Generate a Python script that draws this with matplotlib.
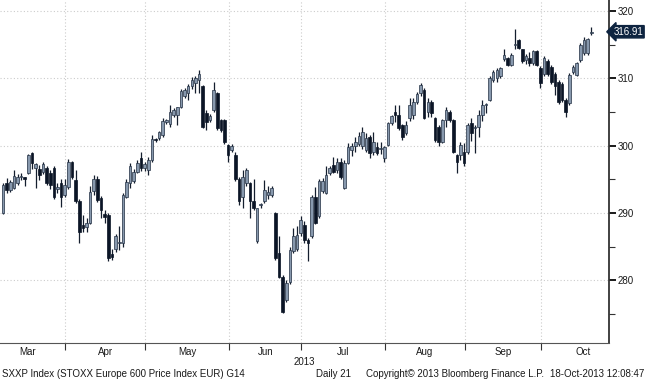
import matplotlib
matplotlib.use("Agg")
import matplotlib.pyplot as plt
import matplotlib.transforms as mtransforms
import numpy as np
import pandas as pd

# SXXP daily candles, 6-Mar-2013 .. 18-Oct-2013
opens = [290.0, 294.4, 293.4, 293.7, 294.4, 295.3, 295.3, 296.0, 298.9, 296.6,
         296.5, 296.1, 296.6, 295.9, 296.6, 293.6, 294.4, 292.7, 293.9, 297.5,
         294.9, 291.7, 288.2, 287.9, 288.5, 293.3, 295.1, 292.2, 289.9, 289.7,
         283.9, 284.7, 285.6, 285.5, 292.4, 294.4, 294.8, 296.1, 298.2, 296.6,
         296.4, 297.8, 300.9, 301.1, 301.5, 303.5, 303.2, 304.6, 304.6, 305.8,
         307.3, 307.8, 308.8, 309.3, 309.7, 308.8, 304.8, 303.8, 305.3, 307.8,
         303.8, 303.8, 300.1, 299.4, 298.6, 295.1, 292.4, 294.4, 294.4, 291.7,
         285.8, 291.1, 291.7, 292.6, 292.6, 290.0, 284.1, 280.5, 277.1, 279.8,
         284.3, 284.7, 287.0, 288.2, 286.0, 286.5, 292.4, 289.5, 293.2, 293.0,
         295.9, 297.1, 296.4, 297.6, 293.7, 297.4, 299.4, 299.9, 300.2, 300.0,
         299.4, 301.3, 299.0, 299.8, 299.5, 298.1, 300.1, 303.3, 305.0, 304.5,
         303.1, 301.9, 304.1, 304.6, 306.5, 307.8, 308.3, 305.0, 306.5, 304.1,
         302.8, 300.6, 303.8, 305.0, 303.8, 298.6, 298.6, 299.1, 299.1, 303.3,
         302.6, 302.8, 304.5, 306.0, 306.8, 309.7, 310.0, 310.4, 312.8, 313.0,
         312.0, 315.0, 315.7, 314.3, 312.7, 313.0, 312.2, 314.0, 311.5, 310.7,
         312.5, 311.7, 310.7, 309.5, 309.2, 306.8, 306.3, 311.0, 310.5, 312.7,
         313.7, 313.7, 316.8]
highs = [294.4, 295.2, 294.9, 296.4, 295.8, 296.0, 295.4, 298.8, 299.1, 297.4,
         297.1, 297.6, 296.9, 296.3, 297.0, 294.4, 295.1, 295.1, 298.0, 297.7,
         296.3, 292.0, 289.7, 289.2, 294.0, 295.6, 295.5, 292.5, 290.4, 290.0,
         284.7, 286.8, 288.0, 293.0, 295.1, 297.4, 296.5, 297.8, 299.0, 297.6,
         298.3, 301.5, 301.1, 302.2, 304.1, 304.0, 306.0, 305.6, 305.8, 308.4,
         308.5, 309.2, 310.2, 310.3, 311.3, 309.0, 305.3, 304.7, 309.5, 308.0,
         304.0, 304.0, 300.3, 300.2, 299.0, 295.4, 296.4, 296.7, 294.6, 295.1,
         290.8, 291.5, 294.9, 294.0, 294.0, 290.1, 286.6, 280.7, 280.1, 285.0,
         287.8, 288.0, 289.5, 288.8, 286.2, 292.6, 293.9, 295.0, 295.2, 296.9,
         296.9, 298.3, 298.1, 298.1, 297.8, 300.4, 300.4, 301.3, 302.0, 302.8,
         301.8, 301.6, 302.0, 300.6, 300.5, 300.0, 303.5, 304.6, 306.0, 306.0,
         303.2, 303.6, 307.0, 307.0, 308.0, 309.3, 308.5, 307.0, 306.8, 304.3,
         303.0, 304.0, 305.7, 305.3, 304.0, 298.8, 300.6, 300.4, 303.4, 304.1,
         303.0, 305.3, 306.8, 306.3, 310.3, 311.3, 311.5, 311.7, 314.4, 313.2,
         313.7, 317.3, 315.9, 314.4, 313.6, 313.9, 314.2, 314.2, 311.8, 313.3,
         312.8, 312.0, 311.0, 309.7, 309.5, 307.0, 310.8, 311.9, 312.4, 315.3,
         316.2, 316.0, 317.6]
lows = [289.8, 293.0, 293.1, 293.5, 294.1, 294.9, 294.0, 295.8, 296.5, 293.7,
        294.9, 295.8, 294.2, 293.6, 292.0, 292.9, 290.9, 292.4, 293.6, 295.0,
        291.4, 285.5, 287.2, 287.2, 288.3, 292.7, 291.6, 289.2, 288.5, 282.8,
        283.0, 284.2, 284.5, 285.0, 292.2, 293.7, 294.5, 295.9, 296.2, 296.2,
        295.6, 297.6, 300.6, 300.8, 301.3, 303.2, 302.8, 304.3, 303.1, 305.6,
        307.0, 306.8, 308.4, 307.8, 307.8, 302.6, 302.3, 303.5, 305.0, 302.3,
        302.0, 300.3, 297.6, 299.0, 294.8, 291.2, 290.7, 294.0, 289.2, 290.4,
        285.5, 290.8, 291.4, 292.1, 292.3, 283.0, 280.3, 275.1, 276.8, 279.5,
        284.0, 284.3, 286.5, 285.6, 282.8, 286.2, 288.3, 289.2, 293.0, 292.8,
        295.7, 295.9, 296.0, 295.1, 293.5, 297.2, 298.4, 299.1, 299.9, 299.5,
        299.0, 298.2, 298.6, 298.6, 298.8, 297.5, 299.9, 303.0, 303.5, 302.3,
        300.8, 301.5, 303.7, 304.0, 306.2, 307.4, 303.9, 304.3, 304.3, 300.6,
        300.0, 300.4, 302.8, 303.5, 298.9, 295.9, 297.9, 296.9, 298.8, 300.7,
        298.9, 301.3, 303.7, 304.9, 306.6, 309.4, 309.5, 310.0, 312.5, 311.8,
        311.8, 314.4, 314.3, 312.2, 312.1, 311.8, 312.0, 311.8, 308.5, 310.4,
        310.4, 309.2, 307.5, 306.2, 306.5, 304.3, 306.0, 310.6, 310.3, 312.4,
        313.5, 313.5, 316.5]
closes = [294.1, 293.4, 294.6, 295.5, 295.4, 295.4, 295.0, 298.6, 297.4, 297.2,
          295.6, 297.2, 294.4, 294.1, 292.4, 293.8, 292.4, 294.1, 297.6, 295.4,
          291.7, 287.2, 287.7, 288.5, 293.1, 295.0, 291.9, 290.4, 289.4, 283.3,
          283.5, 286.5, 285.7, 292.7, 294.6, 296.9, 296.1, 297.4, 296.6, 297.3,
          297.8, 301.0, 300.8, 302.0, 303.7, 303.8, 305.0, 305.3, 305.7, 308.1,
          308.3, 308.8, 309.8, 310.0, 310.7, 302.8, 303.5, 304.4, 308.3, 302.6,
          302.3, 300.6, 298.6, 299.9, 295.1, 291.7, 295.4, 296.4, 291.7, 290.7,
          290.7, 291.2, 293.4, 293.1, 293.7, 283.3, 280.5, 275.3, 279.6, 284.5,
          286.5, 286.7, 288.9, 286.0, 285.5, 292.4, 288.5, 294.7, 294.7, 295.6,
          296.6, 296.1, 297.6, 295.4, 297.4, 299.8, 300.0, 300.6, 301.4, 302.0,
          301.1, 298.9, 300.6, 298.9, 299.6, 299.8, 303.3, 304.4, 304.5, 302.6,
          301.3, 303.1, 306.0, 306.5, 307.7, 309.0, 304.1, 306.5, 304.8, 300.8,
          300.6, 303.8, 305.3, 303.8, 299.1, 297.6, 300.1, 297.4, 303.1, 301.8,
          302.6, 304.5, 306.0, 306.1, 310.0, 311.0, 311.2, 311.5, 313.4, 312.0,
          313.4, 315.1, 314.5, 312.5, 313.3, 312.3, 314.0, 312.0, 309.3, 313.0,
          310.7, 309.5, 308.8, 306.5, 306.8, 305.0, 310.5, 311.7, 312.2, 315.0,
          315.7, 315.9, 316.91]

months = ["Mar", "Apr", "May", "Jun", "Jul", "Aug", "Sep", "Oct"]
month_starts = ["2013-03-01", "2013-04-01", "2013-05-01", "2013-06-01", "2013-07-01",
                "2013-08-01", "2013-09-01", "2013-10-01", "2013-11-01"]
first_day = "2013-03-06"

plt.rcParams['font.family'] = ['Liberation Sans', 'DejaVu Sans']

dates = pd.bdate_range(first_day, periods=len(closes))
x = np.arange(len(dates))
o = np.array(opens)
h = np.array(highs)
l = np.array(lows)
c = np.array(closes)

fig = plt.figure(figsize=(6.45, 3.80), dpi=100)
ax = fig.add_axes([0, 37 / 380, 609 / 645, 343 / 380])

up = c >= o
up_face = '#8798ad'
up_edge = '#243245'
dn_col = '#0b1526'

# wicks
ax.vlines(x, l, h, color='#141e2e', linewidth=0.9, zorder=3)
# bodies
body = np.maximum(np.abs(c - o), 0.15)
bottom = np.minimum(o, c)
ax.bar(x[up], body[up], bottom=bottom[up], width=0.72, color=up_face,
       edgecolor=up_edge, linewidth=0.5, zorder=4)
ax.bar(x[~up], body[~up], bottom=bottom[~up], width=0.72, color=dn_col,
       edgecolor=dn_col, linewidth=0.5, zorder=4)

# month boundaries in trading-day units
start = np.datetime64(first_day)
bounds = np.array([np.busday_count(start, np.datetime64(d)) for d in month_starts]) - 0.8
mids = (bounds[:-1] + bounds[1:]) / 2

ax.set_xlim(-0.83, 166.9)
ax.set_ylim(270.67, 321.63)

ax.set_xticks(bounds[1:-1])
ax.set_xticklabels([])
ax.set_xticks(mids, minor=True)
ax.set_xticklabels(months, minor=True)
ax.tick_params(axis='x', which='major', direction='out', length=5, width=0.8, color='#333333')
ax.tick_params(axis='x', which='minor', length=0, pad=3, labelsize=7, labelcolor='#1a1a1a')

ax.yaxis.tick_right()
ax.set_yticks([280, 290, 300, 310, 320])
ax.set_yticks([275, 285, 295, 305, 315], minor=True)
ax.tick_params(axis='y', which='major', direction='out', length=5, width=1.4,
               color='#1a1a1a', labelsize=7, pad=1.5, labelcolor='#1a1a1a')
ax.tick_params(axis='y', which='minor', direction='out', length=4, width=0.8, color='#333333')

ax.grid(True, which='major', color='#cccccc', linestyle=(0, (1, 2)), linewidth=0.8)
ax.set_axisbelow(True)

for side in ['top', 'left']:
    ax.spines[side].set_visible(False)
ax.spines['right'].set_color('#333333')
ax.spines['right'].set_linewidth(1.3)
ax.spines['bottom'].set_color('#555555')
ax.spines['bottom'].set_linewidth(0.8)

# last price tag, kept inside the right edge of the figure
ytag = fig.transFigure.inverted().transform(ax.transData.transform((0, closes[-1])))[1]
fig.text(643 / 645, ytag, f"{closes[-1]:.2f}", ha='right', va='center',
         fontsize=7, color='white',
         bbox=dict(boxstyle='larrow,pad=0.12', fc='#0e2440', ec='#0e2440'))

# year label under the month labels
trans = mtransforms.blended_transform_factory(ax.transData, fig.transFigure)
ax.text(np.mean(ax.get_xlim()), 1 - 362 / 380, "2013", transform=trans,
        ha='center', va='center', fontsize=7, color='#1a1a1a')

fy = 1 - 374 / 380
fig.text(2 / 645, fy, "SXXP Index (STOXX Europe 600 Price Index EUR) G14",
         ha='left', va='center', fontsize=7, color='#1a1a1a')
fig.text(316 / 645, fy, "Daily 21", ha='left', va='center', fontsize=7, color='#1a1a1a')
fig.text(366 / 645, fy, "Copyright\u00a9 2013 Bloomberg Finance L.P.",
         ha='left', va='center', fontsize=7, color='#1a1a1a')
fig.text(644 / 645, fy, "18-Oct-2013 12:08:47", ha='right', va='center',
         fontsize=7, color='#1a1a1a')

fig.savefig("out.png", dpi=100, facecolor='white')
